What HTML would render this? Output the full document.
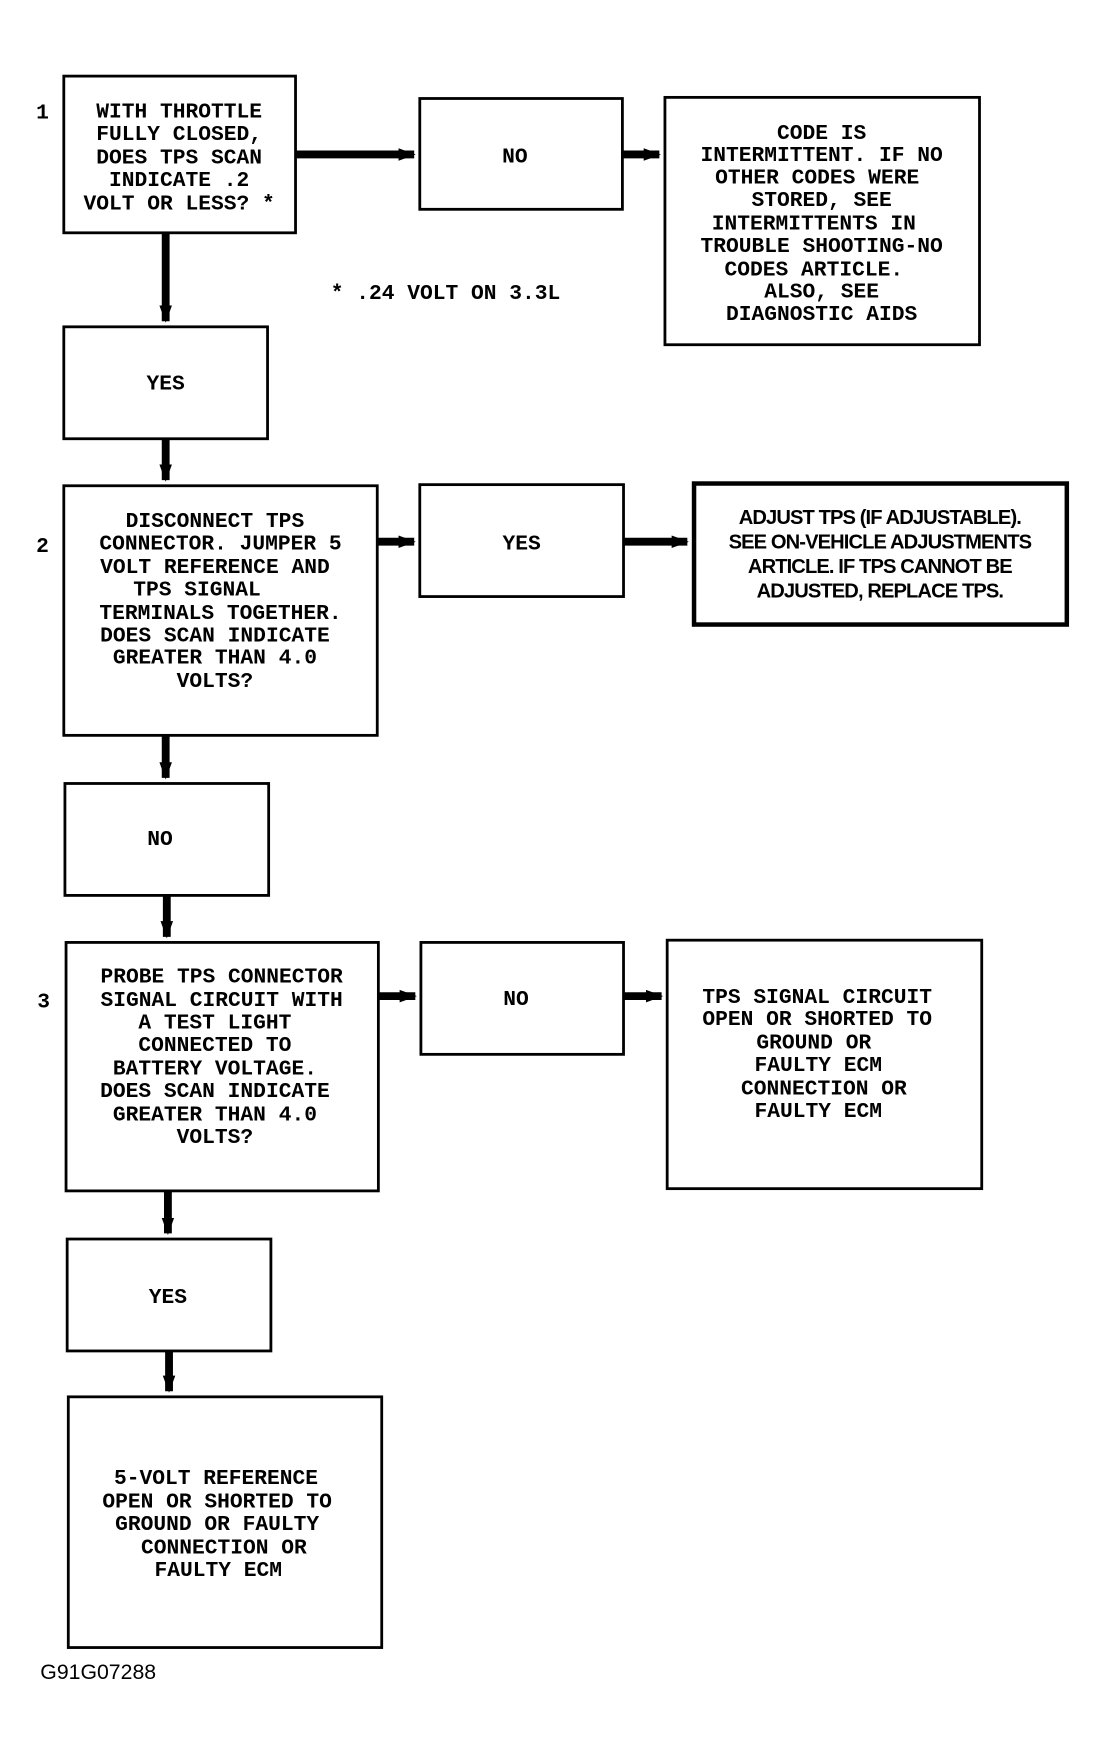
<!DOCTYPE html>
<html><head><style>html,body{margin:0;padding:0;background:#fff}svg{display:block}</style></head><body>
<svg width="1106" height="1755" viewBox="0 0 988 1568" preserveAspectRatio="none" xmlns="http://www.w3.org/2000/svg">
<defs><marker id="a" markerWidth="3" markerHeight="3" refX="2" refY="1.5" orient="auto" markerUnits="strokeWidth"><path d="M0,0.7 L2.2,1.5 L0,2.3 z" fill="#000"/></marker></defs>
<g fill="#fff" stroke="#000" stroke-width="2.5">
<rect x="57" y="68" width="207" height="140"/>
<rect x="375" y="88" width="181" height="99"/>
<rect x="594" y="87" width="281" height="221"/>
<rect x="57" y="292" width="182" height="100"/>
<rect x="57" y="434" width="280" height="223"/>
<rect x="375" y="433" width="182" height="100"/>
<rect x="620" y="432" width="333" height="126" stroke-width="4"/>
<rect x="58" y="700" width="182" height="100"/>
<rect x="59" y="842" width="279" height="222"/>
<rect x="376" y="842" width="181" height="100"/>
<rect x="596" y="840" width="281" height="222"/>
<rect x="60" y="1107" width="182" height="100"/>
<rect x="61" y="1248" width="280" height="224"/>
</g>
<g stroke="#000" stroke-width="7" marker-end="url(#a)">
<line x1="264" y1="138" x2="370" y2="138"/>
<line x1="556" y1="138" x2="589" y2="138"/>
<line x1="148" y1="208" x2="148" y2="287"/>
<line x1="148" y1="392" x2="148" y2="429"/>
<line x1="337" y1="484" x2="370" y2="484"/>
<line x1="557" y1="484" x2="614" y2="484"/>
<line x1="148" y1="657" x2="148" y2="695"/>
<line x1="149" y1="800" x2="149" y2="837"/>
<line x1="338" y1="890" x2="371" y2="890"/>
<line x1="557" y1="890" x2="591" y2="890"/>
<line x1="150" y1="1064" x2="150" y2="1102"/>
<line x1="151" y1="1207" x2="151" y2="1243"/>
</g>
<g font-family="Liberation Mono, monospace" font-weight="bold" font-size="19" text-anchor="middle" fill="#000">
<text x="38" y="106">1</text><text x="38" y="493">2</text><text x="39" y="900">3</text>
<text x="160" y="105">WITH THROTTLE</text>
<text x="160" y="125">FULLY CLOSED,</text>
<text x="160" y="146">DOES TPS SCAN</text>
<text x="160" y="166">INDICATE .2</text>
<text x="160" y="187">VOLT OR LESS? *</text>
<text x="460" y="145">NO</text>
<text x="734" y="124">CODE IS</text>
<text x="734" y="144">INTERMITTENT. IF NO</text>
<text x="730" y="164">OTHER CODES WERE</text>
<text x="734" y="184">STORED, SEE</text>
<text x="727" y="205">INTERMITTENTS IN</text>
<text x="734" y="225">TROUBLE SHOOTING-NO</text>
<text x="727" y="246">CODES ARTICLE.</text>
<text x="734" y="266">ALSO, SEE</text>
<text x="734" y="286">DIAGNOSTIC AIDS</text>
<text x="398" y="267">* .24 VOLT ON 3.3L</text>
<text x="148" y="348">YES</text>
<text x="192" y="471">DISCONNECT TPS</text>
<text x="197" y="491">CONNECTOR. JUMPER 5</text>
<text x="192" y="512">VOLT REFERENCE AND</text>
<text x="176" y="532">TPS SIGNAL</text>
<text x="197" y="553">TERMINALS TOGETHER.</text>
<text x="192" y="573">DOES SCAN INDICATE</text>
<text x="192" y="593">GREATER THAN 4.0</text>
<text x="192" y="614">VOLTS?</text>
<text x="466" y="491">YES</text>
<text x="143" y="755">NO</text>
<text x="198" y="878">PROBE TPS CONNECTOR</text>
<text x="198" y="899">SIGNAL CIRCUIT WITH</text>
<text x="192" y="919">A TEST LIGHT</text>
<text x="192" y="939">CONNECTED TO</text>
<text x="192" y="960">BATTERY VOLTAGE.</text>
<text x="192" y="980">DOES SCAN INDICATE</text>
<text x="192" y="1001">GREATER THAN 4.0</text>
<text x="192" y="1021">VOLTS?</text>
<text x="461" y="898">NO</text>
<text x="730" y="896">TPS SIGNAL CIRCUIT</text>
<text x="730" y="916">OPEN OR SHORTED TO</text>
<text x="727" y="937">GROUND OR</text>
<text x="731" y="957">FAULTY ECM</text>
<text x="736" y="978">CONNECTION OR</text>
<text x="731" y="998">FAULTY ECM</text>
<text x="150" y="1164">YES</text>
<text x="193" y="1326">5-VOLT REFERENCE</text>
<text x="194" y="1347">OPEN OR SHORTED TO</text>
<text x="194" y="1367">GROUND OR FAULTY</text>
<text x="200" y="1388">CONNECTION OR</text>
<text x="195" y="1408">FAULTY ECM</text>
</g>
<g font-family="Liberation Sans, Arial, sans-serif" font-size="18" font-weight="bold" text-anchor="middle" fill="#000" letter-spacing="-0.8">
<text x="786" y="468">ADJUST TPS (IF ADJUSTABLE).</text>
<text x="786" y="490">SEE ON-VEHICLE ADJUSTMENTS</text>
<text x="786" y="512">ARTICLE.  IF TPS CANNOT BE</text>
<text x="786" y="534">ADJUSTED, REPLACE TPS.</text>
</g>
<text x="36" y="1500" font-family="Liberation Sans, Arial, sans-serif" font-size="19" fill="#000">G91G07288</text>
</svg>
</body></html>
